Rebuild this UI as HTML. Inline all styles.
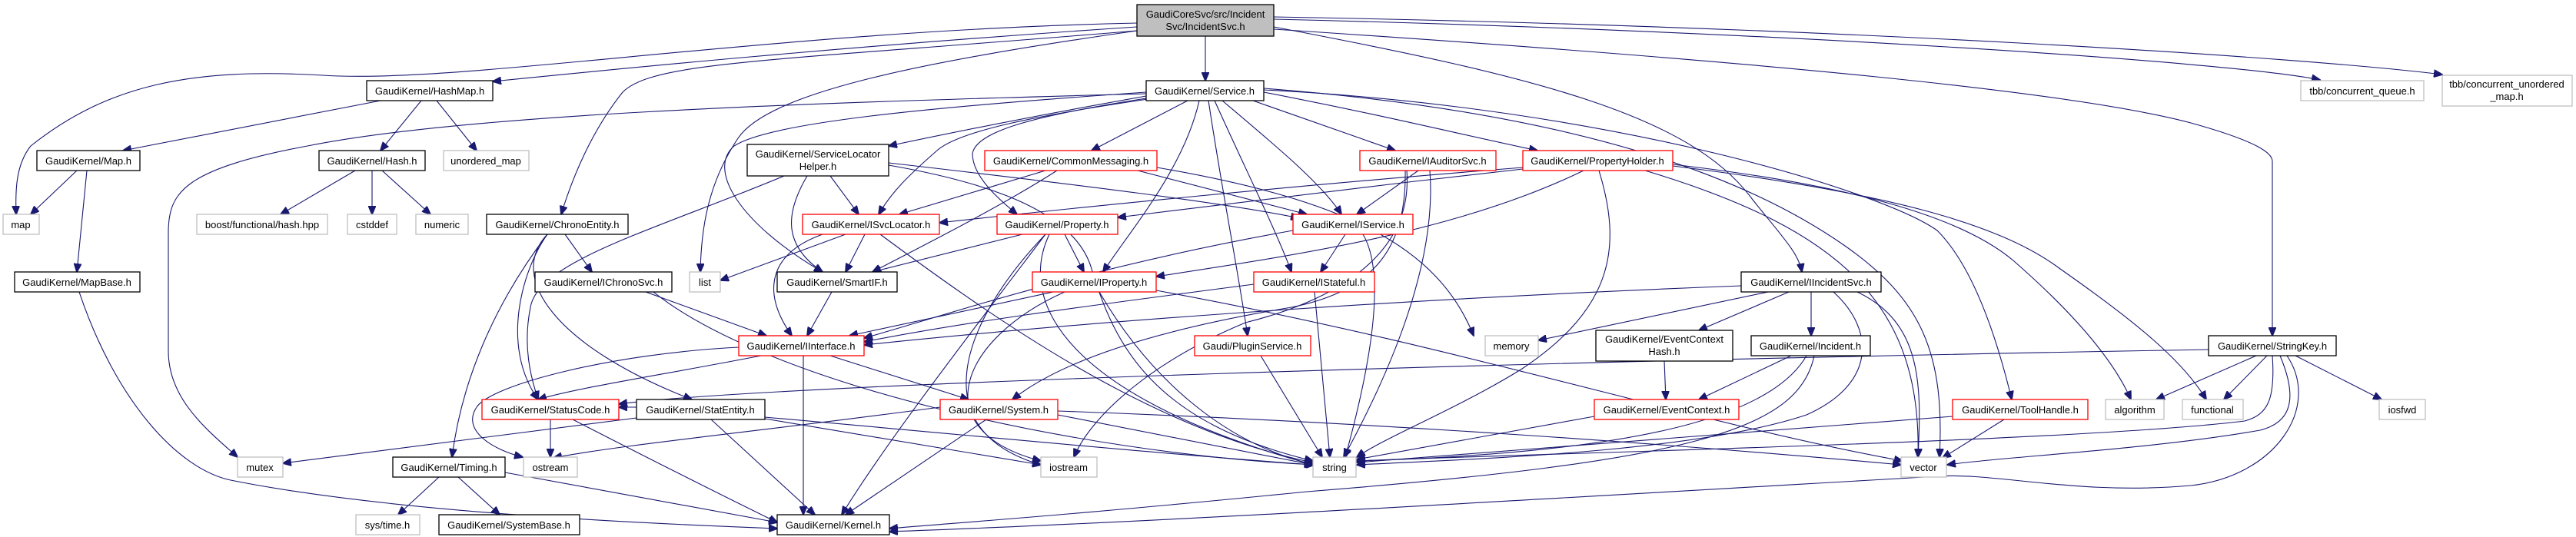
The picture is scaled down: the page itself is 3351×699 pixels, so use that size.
<!DOCTYPE html>
<html><head><meta charset="utf-8"><style>
html,body{margin:0;padding:0;background:#fff}
svg{display:block}
text{font-family:"Liberation Sans",Arial,sans-serif;font-size:13px;text-anchor:middle;fill:#000}
.e{fill:none;stroke:#191970;stroke-width:1.1}
.k{fill:#fff;stroke:#000;stroke-width:1.3}
.r{fill:#fff;stroke:#ff0000;stroke-width:1.3}
.g{fill:#fff;stroke:#bfbfbf;stroke-width:1.3}
</style></head><body>
<svg width="3351" height="699" viewBox="0 0 3351 699" xmlns="http://www.w3.org/2000/svg">
<defs><marker id="a" markerUnits="userSpaceOnUse" markerWidth="12" markerHeight="10" refX="11" refY="5" orient="auto"><path d="M0,0 L12,5 L0,10 z" fill="#191970" stroke="#191970"/></marker></defs>
<g class="e" marker-end="url(#a)">
<path d="M1479,30 C1000,40 600,110 420,98 C250,88 140,110 40,190 C20,215 20,250 21,279"/>
<path d="M1479,35 C1100,60 800,90 641,106"/>
<path d="M1479,40 C1000,80 850,80 810,120 C770,170 745,230 730,279"/>
<path d="M1479,40 C1200,80 1000,120 960,180 C920,240 912,300 911,354"/>
<path d="M1568,47 L1568,105"/>
<path d="M1657,35 C2000,100 2200,150 2280,260 C2320,310 2340,330 2344,354"/>
<path d="M1657,25 C2300,40 2900,80 3018,104"/>
<path d="M1657,22 C2400,35 3000,75 3177,97"/>
<path d="M1657,38 C2300,80 2700,120 2850,160 C2940,185 2956,200 2956,210 L2956,437"/>
<path d="M1491,122 C1000,135 600,150 400,190 C240,220 220,250 219,300 L219,457 C219,520 270,560 309,595"/>
<path d="M1491,125 C1350,150 1250,170 1156,190"/>
<path d="M1500,128 C1350,150 1250,170 1220,195 C1180,230 1160,250 1143,279"/>
<path d="M1491,120 C1200,140 1000,160 955,190 C920,220 960,290 1070,354"/>
<path d="M1545,131 L1420,196"/>
<path d="M1491,128 C1350,150 1270,170 1265,200 C1265,230 1300,260 1323,279"/>
<path d="M1560,131 C1540,220 1470,300 1435,354"/>
<path d="M1572,131 C1590,250 1610,350 1623,437"/>
<path d="M1580,131 C1620,220 1660,300 1680,354"/>
<path d="M1590,131 C1660,190 1720,240 1745,279"/>
<path d="M1630,131 L1815,196"/>
<path d="M1644,120 C1800,150 1900,175 2000,196"/>
<path d="M1644,117 C2100,140 2450,250 2520,300 C2570,350 2600,450 2617,520"/>
<path d="M1644,115 C2100,150 2300,250 2400,320 C2500,390 2530,460 2523,595"/>
<path d="M2176,214 C2400,240 2550,280 2620,340 C2700,410 2750,470 2772,520"/>
<path d="M2176,216 C2450,250 2600,290 2680,350 C2780,420 2840,470 2870,520"/>
<path d="M2080,222 C2110,320 2100,400 1980,480 C1900,530 1800,570 1765,595"/>
<path d="M2140,222 C2400,300 2500,400 2495,595"/>
<path d="M1981,218 C1700,240 1400,270 1222,290"/>
<path d="M2060,222 C1900,300 1700,330 1504,360"/>
<path d="M1981,220 C1800,240 1600,265 1454,283"/>
<path d="M1845,222 L1765,279"/>
<path d="M1860,222 C1870,350 1800,500 1748,595"/>
<path d="M1828,222 C1830,330 1780,380 1680,400 C1500,430 1380,470 1317,520"/>
<path d="M1830,222 C1840,350 1700,400 1620,420 C1500,470 1420,540 1397,595"/>
<path d="M1360,222 L1170,279"/>
<path d="M1375,222 C1300,270 1200,320 1135,354"/>
<path d="M1480,222 L1700,279"/>
<path d="M1505,218 C1750,260 1870,320 1917,437"/>
<path d="M1080,229 L1117,279"/>
<path d="M1050,229 C1020,280 1020,320 1070,354"/>
<path d="M1020,229 C850,300 700,340 690,400 C680,450 690,490 700,520"/>
<path d="M1156,212 C1400,240 1600,265 1690,284"/>
<path d="M1156,215 C1300,240 1400,280 1420,350 C1450,450 1500,550 1708,600"/>
<path d="M1100,305 L937,365"/>
<path d="M1125,305 L1100,354"/>
<path d="M1070,305 C1000,330 990,380 1030,437"/>
<path d="M1145,305 C1300,420 1500,560 1708,602"/>
<path d="M1330,305 L1135,354"/>
<path d="M1385,305 L1410,354"/>
<path d="M1360,305 C1250,450 1150,580 1095,670"/>
<path d="M1365,305 C1320,400 1400,520 1708,605"/>
<path d="M1360,305 C1250,420 1200,560 1354,605"/>
<path d="M1082,380 L1050,437"/>
<path d="M1370,380 L1105,437"/>
<path d="M1430,380 C1500,500 1600,580 1710,605"/>
<path d="M1385,380 C1250,440 1200,560 1354,600"/>
<path d="M1504,378 C1900,450 2200,550 2475,600"/>
<path d="M840,380 L997,437"/>
<path d="M850,380 C1000,500 1400,590 1710,605"/>
<path d="M1631,370 C1400,400 1250,420 1124,445"/>
<path d="M1710,380 L1730,595"/>
<path d="M1750,305 L1718,354"/>
<path d="M1773,305 C1800,350 1790,450 1750,595"/>
<path d="M1682,300 C1400,350 1200,420 1124,440"/>
<path d="M990,463 C850,490 750,505 700,520"/>
<path d="M1080,463 L1260,520"/>
<path d="M1045,463 L1045,670"/>
<path d="M961,452 C800,460 640,500 620,530 C600,560 640,585 680,595"/>
<path d="M1640,463 L1720,595"/>
<path d="M1283,546 L1100,670"/>
<path d="M1376,540 L1708,605"/>
<path d="M1376,535 C1800,550 2200,580 2473,605"/>
<path d="M828,544 L368,603"/>
<path d="M1223,530 C1000,560 800,580 720,596"/>
<path d="M716,546 L716,595"/>
<path d="M745,546 C850,600 950,650 1011,680"/>
<path d="M828,530 L805,530"/>
<path d="M925,546 L1060,670"/>
<path d="M995,543 C1300,570 1500,590 1708,605"/>
<path d="M995,545 L1354,605"/>
<path d="M735,305 L770,354"/>
<path d="M712,305 C680,350 650,450 700,520"/>
<path d="M712,305 C640,400 600,500 588,595"/>
<path d="M712,305 C660,360 720,450 900,520"/>
<path d="M571,621 L518,670"/>
<path d="M596,621 L650,670"/>
<path d="M657,615 L1011,680"/>
<path d="M103,380 C150,520 230,610 300,625 C500,665 800,680 1011,688"/>
<path d="M100,222 L40,279"/>
<path d="M113,222 L100,354"/>
<path d="M495,131 L160,196"/>
<path d="M548,131 L495,196"/>
<path d="M568,131 L620,196"/>
<path d="M462,222 L365,279"/>
<path d="M484,222 L484,279"/>
<path d="M497,222 L560,279"/>
<path d="M2265,372 C1800,390 1400,420 1124,449"/>
<path d="M2300,380 L2001,443"/>
<path d="M2327,380 L2210,430"/>
<path d="M2356,380 L2356,437"/>
<path d="M2385,380 C2440,430 2440,500 2350,540 C2200,590 1900,598 1765,605"/>
<path d="M2416,380 C2500,420 2500,500 2495,595"/>
<path d="M2165,470 L2167,520"/>
<path d="M2330,463 L2210,520"/>
<path d="M2350,463 C2300,550 2100,590 1765,600"/>
<path d="M2360,463 C2340,560 2200,600 1700,640 C1400,670 1250,680 1157,688"/>
<path d="M2074,542 L1765,598"/>
<path d="M2607,546 L2527,596"/>
<path d="M2540,542 C2200,570 1900,590 1765,602"/>
<path d="M2873,455 C2000,470 1000,500 805,526"/>
<path d="M2935,463 L2805,520"/>
<path d="M2949,463 L2893,520"/>
<path d="M2986,463 L3098,520"/>
<path d="M2956,463 C2960,520 2950,540 2920,548 C2700,575 2000,590 1765,600"/>
<path d="M2966,463 C2990,520 2980,550 2940,560 C2800,585 2600,595 2533,605"/>
<path d="M2975,463 C3020,530 2960,620 2850,632 C2700,645 2600,615 2520,620 C2000,650 1500,680 1157,692"/>
</g>
<g>
<rect x="1479" y="6" width="178" height="41" fill="#bfbfbf" stroke="#000" stroke-width="1.3"/>
<text x="1568" y="23">GaudiCoreSvc/src/Incident</text><text x="1568" y="39">Svc/IncidentSvc.h</text>
<rect class="k" x="1491" y="105" width="153" height="26"/><text x="1567" y="123">GaudiKernel/Service.h</text>
<rect class="k" x="477" y="105" width="164" height="26"/><text x="559" y="123">GaudiKernel/HashMap.h</text>
<rect class="g" x="2993" y="105" width="160" height="26"/><text x="3073" y="123">tbb/concurrent_queue.h</text>
<rect class="g" x="3177" y="98" width="169" height="40"/><text x="3261" y="114">tbb/concurrent_unordered</text><text x="3261" y="130">_map.h</text>
<rect class="k" x="48" y="196" width="134" height="26"/><text x="115" y="214">GaudiKernel/Map.h</text>
<rect class="k" x="415" y="196" width="138" height="26"/><text x="484" y="214">GaudiKernel/Hash.h</text>
<rect class="g" x="577" y="196" width="111" height="26"/><text x="632" y="214">unordered_map</text>
<rect class="k" x="972" y="188" width="184" height="41"/><text x="1064" y="205">GaudiKernel/ServiceLocator</text><text x="1064" y="221">Helper.h</text>
<rect class="r" x="1281" y="196" width="224" height="26"/><text x="1393" y="214">GaudiKernel/CommonMessaging.h</text>
<rect class="r" x="1769" y="196" width="177" height="26"/><text x="1857" y="214">GaudiKernel/IAuditorSvc.h</text>
<rect class="r" x="1981" y="196" width="195" height="26"/><text x="2078" y="214">GaudiKernel/PropertyHolder.h</text>
<rect class="g" x="4" y="279" width="47" height="26"/><text x="27" y="297">map</text>
<rect class="g" x="256" y="279" width="170" height="26"/><text x="341" y="297">boost/functional/hash.hpp</text>
<rect class="g" x="452" y="279" width="64" height="26"/><text x="484" y="297">cstddef</text>
<rect class="g" x="541" y="279" width="68" height="26"/><text x="575" y="297">numeric</text>
<rect class="k" x="633" y="279" width="184" height="26"/><text x="725" y="297">GaudiKernel/ChronoEntity.h</text>
<rect class="r" x="1044" y="279" width="178" height="26"/><text x="1133" y="297">GaudiKernel/ISvcLocator.h</text>
<rect class="r" x="1297" y="279" width="157" height="26"/><text x="1375" y="297">GaudiKernel/Property.h</text>
<rect class="r" x="1682" y="279" width="156" height="26"/><text x="1760" y="297">GaudiKernel/IService.h</text>
<rect class="k" x="19" y="354" width="163" height="26"/><text x="100" y="372">GaudiKernel/MapBase.h</text>
<rect class="k" x="696" y="354" width="178" height="26"/><text x="785" y="372">GaudiKernel/IChronoSvc.h</text>
<rect class="g" x="897" y="354" width="40" height="26"/><text x="917" y="372">list</text>
<rect class="k" x="1011" y="354" width="156" height="26"/><text x="1089" y="372">GaudiKernel/SmartIF.h</text>
<rect class="r" x="1343" y="354" width="161" height="26"/><text x="1423" y="372">GaudiKernel/IProperty.h</text>
<rect class="r" x="1631" y="354" width="157" height="26"/><text x="1709" y="372">GaudiKernel/IStateful.h</text>
<rect class="k" x="2265" y="354" width="182" height="26"/><text x="2356" y="372">GaudiKernel/IIncidentSvc.h</text>
<rect class="r" x="961" y="437" width="163" height="26"/><text x="1042" y="455">GaudiKernel/IInterface.h</text>
<rect class="r" x="1554" y="437" width="151" height="26"/><text x="1629" y="455">Gaudi/PluginService.h</text>
<rect class="g" x="1932" y="437" width="69" height="26"/><text x="1966" y="455">memory</text>
<rect class="k" x="2076" y="430" width="178" height="40"/><text x="2165" y="446">GaudiKernel/EventContext</text><text x="2165" y="462">Hash.h</text>
<rect class="k" x="2278" y="437" width="155" height="26"/><text x="2355" y="455">GaudiKernel/Incident.h</text>
<rect class="k" x="2873" y="437" width="166" height="26"/><text x="2956" y="455">GaudiKernel/StringKey.h</text>
<rect class="r" x="627" y="520" width="178" height="26"/><text x="716" y="538">GaudiKernel/StatusCode.h</text>
<rect class="k" x="828" y="520" width="167" height="26"/><text x="911" y="538">GaudiKernel/StatEntity.h</text>
<rect class="r" x="1223" y="520" width="153" height="26"/><text x="1299" y="538">GaudiKernel/System.h</text>
<rect class="r" x="2074" y="520" width="188" height="26"/><text x="2168" y="538">GaudiKernel/EventContext.h</text>
<rect class="r" x="2540" y="520" width="176" height="26"/><text x="2628" y="538">GaudiKernel/ToolHandle.h</text>
<rect class="g" x="2739" y="520" width="76" height="26"/><text x="2777" y="538">algorithm</text>
<rect class="g" x="2839" y="520" width="79" height="26"/><text x="2878" y="538">functional</text>
<rect class="g" x="3095" y="520" width="60" height="26"/><text x="3125" y="538">iosfwd</text>
<rect class="g" x="309" y="595" width="59" height="26"/><text x="338" y="613">mutex</text>
<rect class="k" x="511" y="595" width="146" height="26"/><text x="584" y="613">GaudiKernel/Timing.h</text>
<rect class="g" x="681" y="595" width="70" height="26"/><text x="716" y="613">ostream</text>
<rect class="g" x="1354" y="595" width="73" height="26"/><text x="1390" y="613">iostream</text>
<rect class="g" x="1708" y="595" width="56" height="26"/><text x="1736" y="613">string</text>
<rect class="g" x="2473" y="595" width="59" height="26"/><text x="2502" y="613">vector</text>
<rect class="g" x="463" y="670" width="83" height="26"/><text x="504" y="688">sys/time.h</text>
<rect class="k" x="571" y="670" width="183" height="26"/><text x="662" y="688">GaudiKernel/SystemBase.h</text>
<rect class="k" x="1011" y="670" width="146" height="26"/><text x="1084" y="688">GaudiKernel/Kernel.h</text>
</g>
</svg>
</body></html>
